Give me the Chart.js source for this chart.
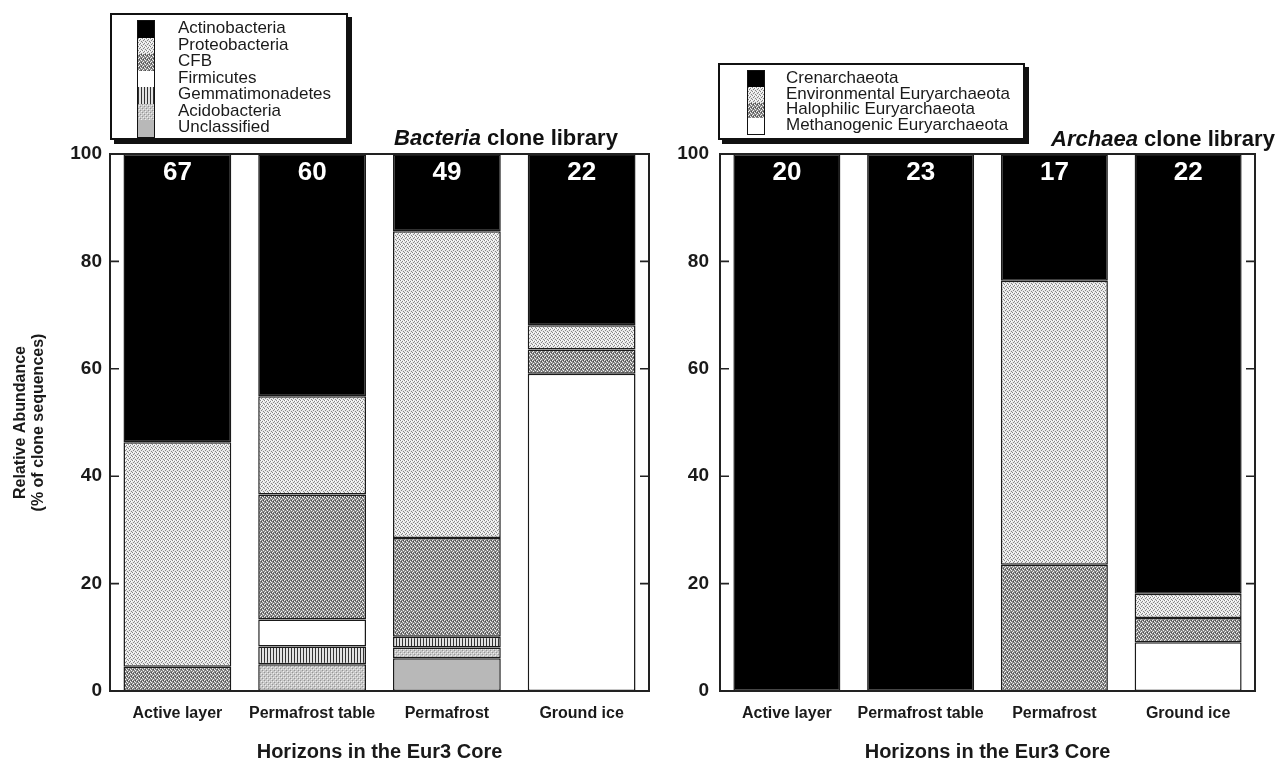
<!DOCTYPE html>
<html>
<head>
<meta charset="utf-8">
<script src="https://cdn.jsdelivr.net/npm/chart.js@4.4.1/dist/chart.umd.min.js"></script>
<style>
  html, body { margin: 0; padding: 0; background: #fff; }
  #page { position: relative; width: 1288px; height: 763px; overflow: hidden; background: #fff;
          font-family: "Liberation Sans", Arial, Helvetica, sans-serif; color: #111; }
  canvas { position: absolute; top: 0; }
  .legend { position: absolute; box-sizing: border-box; border: 2px solid #111; background: #fff;
            box-shadow: 4px 4px 0 #111; }
  .swcol { position: absolute; border: 1px solid #111; box-sizing: content-box; }
  .sw { width: 100%; }
  .ltext { position: absolute; font-size: 17px; white-space: nowrap; color: #1a1a1a; }
  .ltext div { display: flex; align-items: center; }
  .ptitle { position: absolute; font-weight: bold; font-size: 22px; white-space: nowrap;
            transform: translate(-50%, -50%); color: #111; }
</style>
</head>
<body>
<div id="page">
  <canvas id="bact" width="660" height="763" style="left:0px"></canvas>
  <canvas id="arch" width="628" height="763" style="left:660px"></canvas>

  <div class="legend" id="legB" style="left:110px; top:13px; width:238px; height:127px;"></div>
  <div class="legend" id="legA" style="left:718px; top:63px; width:307px; height:77px;"></div>

  <div class="ptitle" style="left:506px; top:138px;"><i>Bacteria</i> clone library</div>
  <div class="ptitle" style="left:1163px; top:139px;"><i>Archaea</i> clone library</div>
</div>
<script>
// ---------------- DATA ----------------
const horizons = ["Active layer", "Permafrost table", "Permafrost", "Ground ice"];
const yTicks = [0, 20, 40, 60, 80, 100];

// Bacteria clone library (% of clone sequences), bottom to top of each bar
const bacteriaGroups = ["Unclassified", "Acidobacteria", "Gemmatimonadetes", "Firmicutes", "CFB", "Proteobacteria", "Actinobacteria"];
const bactUnclassified     = [0,    0,    6.1,  0];
const bactAcidobacteria    = [0,    5.0,  2.0,  0];
const bactGemmatimonadetes = [0,    3.3,  2.0,  0];
const bactFirmicutes       = [0,    5.0,  0,    59.1];
const bactCFB              = [4.5,  23.3, 18.4, 4.5];
const bactProteobacteria   = [41.8, 18.3, 57.1, 4.5];
const bactActinobacteria   = [53.7, 45.0, 14.3, 31.8];
const bacteriaClones = [67, 60, 49, 22];

// Archaea clone library (% of clone sequences), bottom to top of each bar
const archaeaGroups = ["Methanogenic Euryarchaeota", "Halophilic Euryarchaeota", "Environmental Euryarchaeota", "Crenarchaeota"];
const archMethanogenic  = [0,   0,   0,    9.1];
const archHalophilic    = [0,   0,   23.5, 4.5];
const archEnvironmental = [0,   0,   52.9, 4.5];
const archCrenarchaeota = [100, 100, 23.5, 81.8];
const archaeaClones = [20, 23, 17, 22];

// ---------------- PATTERNS ----------------
function makeTile(w, h, bg, pixels) {
  const c = document.createElement('canvas'); c.width = w; c.height = h;
  const g = c.getContext('2d'); g.fillStyle = bg; g.fillRect(0, 0, w, h);
  pixels.forEach(([x, y, col]) => { g.fillStyle = col; g.fillRect(x, y, 1, 1); });
  return c;
}
const tiles = {
  black: makeTile(4, 4, '#000000', []),
  white: makeTile(4, 4, '#ffffff', []),
  light: makeTile(4, 4, '#e8e8e8', [[0,0,'#858585'],[2,1,'#858585'],[1,2,'#858585'],[3,3,'#858585'],[3,1,'#ffffff'],[1,0,'#ffffff']]),
  dark:  makeTile(4, 4, '#858585', [[0,0,'#f2f2f2'],[2,1,'#f2f2f2'],[1,3,'#f2f2f2'],[3,2,'#f2f2f2'],[1,1,'#4a4a4a'],[3,0,'#4a4a4a']]),
  vlines: makeTile(3, 1, '#e2e2e2', [[0,0,'#333333']]),
  acido: makeTile(4, 4, '#c6c6c6', [[0,0,'#959595'],[2,2,'#959595'],[1,1,'#eeeeee'],[3,3,'#eeeeee'],[3,1,'#dddddd']]),
  grey:  makeTile(4, 4, '#b8b8b8', [])
};
const pctx = document.createElement('canvas').getContext('2d');
function pat(name) { return pctx.createPattern(tiles[name], 'repeat'); }

const bacteriaFills = ['grey', 'acido', 'vlines', 'white', 'dark', 'light', 'black'];
const archaeaFills  = ['white', 'dark', 'light', 'black'];

// ---------------- PLUGIN: frame, inward ticks, clone counts ----------------
const framePlugin = {
  id: 'frame',
  afterDatasetsDraw(chart, args, opts) {
    const { ctx, chartArea: a, scales: { x, y } } = chart;
    ctx.save();
    ctx.strokeStyle = '#222';
    ctx.lineWidth = 2;
    ctx.strokeRect(a.left, a.top, a.right - a.left, a.bottom - a.top);
    ctx.lineWidth = 1.6;
    y.ticks.forEach(t => {
      const py = y.getPixelForValue(t.value);
      ctx.beginPath();
      ctx.moveTo(a.left, py); ctx.lineTo(a.left + 9, py);
      ctx.moveTo(a.right - 9, py); ctx.lineTo(a.right, py);
      ctx.stroke();
    });
    ctx.fillStyle = '#ffffff';
    ctx.font = 'bold 26px "Liberation Sans", Arial, sans-serif';
    ctx.textAlign = 'center';
    ctx.textBaseline = 'middle';
    opts.counts.forEach((n, i) => {
      ctx.fillText(String(n), x.getPixelForValue(i), y.getPixelForValue(100) + 19);
    });
    ctx.restore();
  }
};

Chart.defaults.font.family = '"Liberation Sans", Arial, sans-serif';
Chart.defaults.color = '#1a1a1a';

function makeDatasets(groups, series, fills) {
  return groups.map((g, i) => ({
    label: g,
    data: series[i],
    backgroundColor: pat(fills[i]),
    borderColor: '#1a1a1a',
    borderWidth: (c) => (c.raw ? 1.5 : 0),
    borderSkipped: false,
    barPercentage: 0.8,
    categoryPercentage: 1.0
  }));
}

function makeChart(id, groups, series, fills, counts, yWidth, yPad, padRight, showYTitle) {
  return new Chart(document.getElementById(id), {
    type: 'bar',
    data: { labels: horizons, datasets: makeDatasets(groups, series, fills) },
    options: {
      responsive: false,
      animation: false,
      events: [],
      layout: { padding: { left: 0, top: 154, right: padRight, bottom: 0 } },
      plugins: { legend: { display: false }, tooltip: { enabled: false }, frame: { counts } },
      scales: {
        x: {
          stacked: true,
          grid: { display: false, drawTicks: false },
          border: { display: false },
          ticks: { font: { size: 16, weight: 'bold' }, padding: 13, maxRotation: 0, autoSkip: false },
          title: { display: true, text: 'Horizons in the Eur3 Core',
                   font: { size: 20, weight: 'bold', lineHeight: 1 }, padding: { top: 0, bottom: 1 } },
          afterFit: (s) => { s.height = 72; }
        },
        y: {
          stacked: true,
          min: 0, max: 100,
          afterBuildTicks: (s) => { s.ticks = yTicks.map(v => ({ value: v })); },
          grid: { display: false, drawTicks: false },
          border: { display: false },
          ticks: { font: { size: 19, weight: 'bold' }, padding: yPad },
          title: { display: showYTitle, text: ['Relative Abundance', '(% of clone sequences)'],
                   font: { size: 16, weight: 'bold', lineHeight: 1.1 }, padding: { top: 12, bottom: 0 } },
          afterFit: (s) => { s.width = yWidth; }
        }
      }
    },
    plugins: [framePlugin]
  });
}

makeChart('bact', bacteriaGroups,
  [bactUnclassified, bactAcidobacteria, bactGemmatimonadetes, bactFirmicutes, bactCFB, bactProteobacteria, bactActinobacteria],
  bacteriaFills, bacteriaClones, 110, 8, 11, true);

makeChart('arch', archaeaGroups,
  [archMethanogenic, archHalophilic, archEnvironmental, archCrenarchaeota],
  archaeaFills, archaeaClones, 60, 11, 33, false);

// ---------------- HTML legends ----------------
function buildLegend(el, groups, fills, swLeft, swTop, rowH, textLeft, swW) {
  const order = groups.map((g, i) => i).reverse();
  const col = document.createElement('div');
  col.className = 'swcol';
  col.style.left = swLeft + 'px'; col.style.top = swTop + 'px'; col.style.width = swW + 'px';
  const txt = document.createElement('div');
  txt.className = 'ltext';
  txt.style.left = textLeft + 'px'; txt.style.top = swTop + 'px';
  order.forEach(i => {
    const s = document.createElement('div');
    s.className = 'sw';
    s.style.height = rowH + 'px';
    s.style.backgroundImage = 'url(' + tiles[fills[i]].toDataURL() + ')';
    col.appendChild(s);
    const t = document.createElement('div');
    t.style.height = rowH + 'px';
    t.textContent = groups[i];
    txt.appendChild(t);
  });
  el.appendChild(col); el.appendChild(txt);
}
buildLegend(document.getElementById('legB'), bacteriaGroups, bacteriaFills, 25, 5, 16.5, 66, 16);
buildLegend(document.getElementById('legA'), archaeaGroups, archaeaFills, 27, 5, 15.75, 66, 16);
</script>
</body>
</html>
